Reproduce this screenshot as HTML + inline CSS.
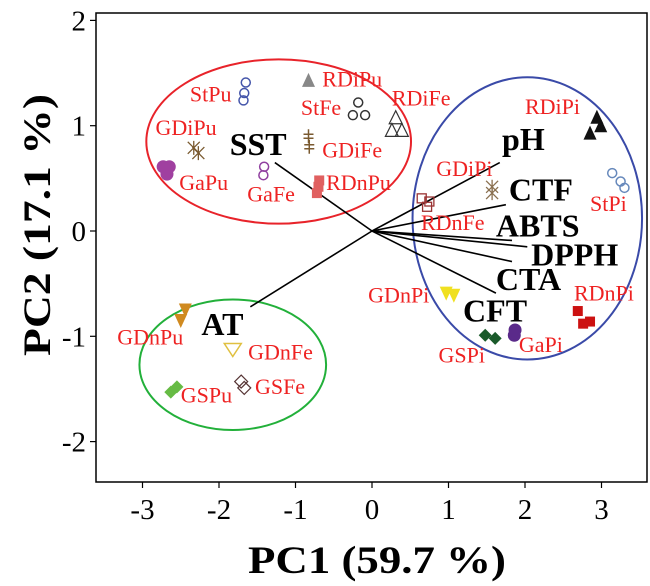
<!DOCTYPE html>
<html><head><meta charset="utf-8"><style>
html,body{margin:0;padding:0;background:#fff;}
svg{display:block;font-family:"Liberation Serif",serif;}
</style></head><body>
<svg id="chart" width="650" height="586" viewBox="0 0 650 586" xmlns="http://www.w3.org/2000/svg">
<g id="ellipses"></g><g id="vectors"></g><g id="points"></g><g id="labels"></g><g id="axes"></g>
<text x="377" y="573" font-size="39" font-weight="bold" text-anchor="middle" textLength="258" lengthAdjust="spacingAndGlyphs">PC1 (59.7 %)</text>
<text transform="translate(50,225) rotate(-90)" font-size="39" font-weight="bold" text-anchor="middle" textLength="262" lengthAdjust="spacingAndGlyphs">PC2 (17.1 %)</text>
</svg>
<script>
const xTicks=[-3,-2,-1,0,1,2,3];
const yTicks=[-2,-1,0,1,2];
const sampleNames=["StPu","RDiPu","StFe","RDiFe","GDiPu","GaPu","GaFe","GDiFe","RDnPu","RDiPi","StPi","GDiPi","RDnFe","GDnPi","RDnPi","GSPi","GaPi","GDnPu","GDnFe","GSFe","GSPu"];
const sampleX=[[-1.65,-1.67,-1.68],[-0.83],[-0.18,-0.25,-0.09],[0.31,0.26,0.39],[-2.33,-2.27],[-2.73,-2.65,-2.68],[-1.41,-1.42],[-0.83,-0.82],[-0.69,-0.70,-0.72],[2.94,2.99,2.85],[3.14,3.25,3.30],[1.57,1.57],[0.65,0.75,0.72],[0.97,1.07],[2.69,2.85,2.76],[1.48,1.61],[1.87,1.86],[-2.44,-2.50],[-1.82],[-1.71,-1.67],[-2.55,-2.63]];
const sampleY=[[1.41,1.31,1.24],[1.43],[1.22,1.10,1.10],[1.08,0.96,0.96],[0.79,0.74],[0.61,0.61,0.54],[0.61,0.53],[0.90,0.80],[0.48,0.42,0.36],[1.08,1.00,0.93],[0.55,0.47,0.41],[0.42,0.36],[0.31,0.28,0.23],[-0.59,-0.61],[-0.76,-0.86,-0.88],[-0.99,-1.02],[-0.94,-0.99],[-0.75,-0.85],[-1.13],[-1.43,-1.49],[-1.48,-1.53]];
const sampleLabelX=[-2.38,-0.65,-0.93,0.26,-2.83,-2.52,-1.63,-0.65,-0.60,2.00,2.85,0.84,0.64,-0.05,2.64,0.87,1.92,-3.33,-1.62,-1.53,-2.50];
const sampleLabelY=[1.23,1.37,1.10,1.19,0.91,0.39,0.28,0.70,0.39,1.11,0.19,0.52,0.01,-0.68,-0.66,-1.25,-1.15,-1.08,-1.22,-1.55,-1.63];
const varNames=["SST","pH","CTF","ABTS","DPPH","CTA","CFT","AT"];
const varX=[-1.27,1.67,1.75,1.83,2.03,1.83,1.62,-1.59];
const varY=[0.65,0.65,0.25,-0.09,-0.15,-0.29,-0.59,-0.72];
const varLabelX=[-1.86,1.70,1.79,1.62,2.08,1.62,1.19,-2.23];
const varLabelY=[0.72,0.77,0.29,-0.05,-0.33,-0.56,-0.86,-0.99];
const ellipseNames=["cluster-red","cluster-blue","cluster-green"];
const ellipseCX=[-1.22,2.03,-1.82];
const ellipseCY=[0.85,0.12,-1.27];
const ellipseRX=[1.73,1.50,1.22];
const ellipseRY=[0.78,1.34,0.62];

const ns="http://www.w3.org/2000/svg";
const X0=372,XU=76.5,Y0=231,YU=105.3,L=96,R=647,T=13,B=482;
const sx=v=>X0+v*XU, sy=v=>Y0-v*YU;
function mk(tag,attrs,parent){const e=document.createElementNS(ns,tag);for(const k in attrs)e.setAttribute(k,attrs[k]);parent.appendChild(e);return e;}
const ax=document.getElementById('axes');
const frame=mk('rect',{x:L,y:T,width:R-L,height:B-T,fill:'none',stroke:'#000','stroke-width':1.5},ax);


xTicks.forEach(t=>{
  const l=mk('line',{x1:sx(t),x2:sx(t),y1:B,y2:B+6,stroke:'#000','stroke-width':1.2},ax);
  
  
  const tx=mk('text',{x:sx(t),y:B+37,'font-size':29,'text-anchor':'middle'},ax);tx.textContent=t;
  
  
});
yTicks.forEach(t=>{
  const l=mk('line',{x1:L-6,x2:L,y1:sy(t),y2:sy(t),stroke:'#000','stroke-width':1.2},ax);
  
  
  const tx=mk('text',{x:L-10,y:sy(t)+10,'font-size':29,'text-anchor':'end'},ax);tx.textContent=t;
  
  
});
const eg=document.getElementById('ellipses');
const ecol=['#e8232a','#3a4aa8','#22b03a'];
ellipseNames.forEach((n,i)=>{
  const e=mk('ellipse',{cx:sx(ellipseCX[i]),cy:sy(ellipseCY[i]),rx:ellipseRX[i]*XU,ry:ellipseRY[i]*YU,fill:'none',stroke:ecol[i],'stroke-width':2},eg);
  
  
});
const vg=document.getElementById('vectors');
varNames.forEach((n,i)=>{
  const l=mk('line',{x1:sx(0),y1:sy(0),x2:sx(varX[i]),y2:sy(varY[i]),stroke:'#000','stroke-width':1.6},vg);
  
  
  const t=mk('text',{x:sx(varLabelX[i]),y:sy(varLabelY[i]),'font-size':32,'font-weight':'bold'},vg);t.textContent=n;
  
  
});
const styles={
 StPu:['ocirc','#4455aa'],RDiPu:['tri','#888'],StFe:['ocirc','#333'],RDiFe:['otri','#333'],GDiPu:['star','#7a5a30'],GaPu:['circ','#a040a0'],GaFe:['ocirc','#9040a0'],GDiFe:['plus','#7a5a30'],RDnPu:['sq','#e06060'],RDiPi:['tri','#111'],StPi:['ocirc','#6688bb'],GDiPi:['star','#8a7050'],RDnFe:['osq','#993333'],GDnPi:['dtri','#f0e020'],RDnPi:['sq','#cc1111'],GSPi:['dia','#1a5a2a'],GaPi:['circ','#5a2a8a'],GDnPu:['dtri','#d08a20'],GDnFe:['odtri','#e0c040'],GSFe:['odia','#553333'],GSPu:['dia','#66bb44']};
const pg=document.getElementById('points'),lg=document.getElementById('labels');
function marker(type,c,x,y){
  const s=6.5;let e;
  switch(type){
   case 'circ':e=mk('circle',{cx:x,cy:y,r:s,fill:c},pg);break;
   case 'ocirc':e=mk('circle',{cx:x,cy:y,r:4.5,fill:'none',stroke:c,'stroke-width':1.5},pg);break;
   case 'tri':e=mk('polygon',{points:`${x},${y-s-1} ${x-s},${y+s} ${x+s},${y+s}`,fill:c},pg);break;
   case 'otri':e=mk('polygon',{points:`${x},${y-s} ${x-s},${y+s} ${x+s},${y+s}`,fill:'none',stroke:c,'stroke-width':1.2},pg);break;
   case 'dtri':e=mk('polygon',{points:`${x-s},${y-s} ${x+s},${y-s} ${x},${y+s+1}`,fill:c},pg);break;
   case 'odtri':e=mk('polygon',{points:`${x-s-2},${y-s} ${x+s+2},${y-s} ${x},${y+s}`,fill:'none',stroke:c,'stroke-width':1.5},pg);break;
   case 'sq':e=mk('rect',{x:x-5,y:y-5,width:10,height:10,fill:c},pg);break;
   case 'osq':e=mk('rect',{x:x-4.5,y:y-4.5,width:9,height:9,fill:'none',stroke:c,'stroke-width':1.3},pg);break;
   case 'dia':e=mk('polygon',{points:`${x},${y-s} ${x+s},${y} ${x},${y+s} ${x-s},${y}`,fill:c},pg);break;
   case 'odia':e=mk('polygon',{points:`${x},${y-s} ${x+s},${y} ${x},${y+s} ${x-s},${y}`,fill:'none',stroke:c,'stroke-width':1.2},pg);break;
   case 'star':e=mk('path',{d:`M${x-6},${y-6}L${x+6},${y+6}M${x+6},${y-6}L${x-6},${y+6}M${x},${y-7}L${x},${y+7}`,stroke:c,'stroke-width':1.3,fill:'none'},pg);break;
   case 'plus':e=mk('path',{d:`M${x},${y-7}L${x},${y+7}M${x-5},${y-2}L${x+5},${y-2}M${x-5},${y+2}L${x+5},${y+2}`,stroke:c,'stroke-width':1.5,fill:'none'},pg);break;
  }
  return e;
}
sampleNames.forEach((n,i)=>{
  const st=styles[n];
  sampleX[i].forEach((v,j)=>{
    const m=marker(st[0],st[1],sx(v),sy(sampleY[i][j]));
    
    
  });
  const t=mk('text',{x:sx(sampleLabelX[i]),y:sy(sampleLabelY[i]),'font-size':22,fill:'#ee2222'},lg);t.textContent=n;
  
  
});
</script>
</body></html>
